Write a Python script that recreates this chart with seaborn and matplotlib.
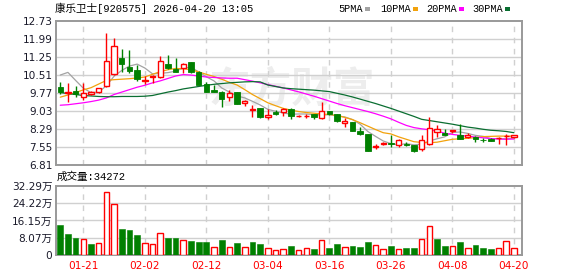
import numpy as np
import pandas as pd
import matplotlib
matplotlib.use("Agg")
import matplotlib.pyplot as plt
from matplotlib.patches import Rectangle
import seaborn as sns

# ---------------- data ----------------
title = "康乐卫士[920575] 2026-04-20 13:05"
volume_label = "成交量:34272"

opens = [10.03, 9.78, 9.88, 9.63, 9.76, 9.82, 10.06, 10.55, 11.22, 10.87,
         10.73, 10.26, 10.42, 10.43, 10.98, 10.78, 10.80, 11.05, 10.63, 10.14,
         9.91, 9.82, 9.61, 9.82, 9.39, 9.10, 9.16, 8.78, 9.01, 9.00,
         9.14, 8.84, 8.84, 8.91, 8.74, 9.03, 8.91, 8.55, 8.59, 8.22,
         8.09, 7.57, 7.70, 7.73, 7.65, 7.70, 7.64, 7.46, 7.68, 8.19,
         8.14, 8.20, 8.07, 7.98, 7.99, 7.87, 7.91, 7.92, 8.00, 7.96]
highs = [10.25, 10.21, 10.06, 10.21, 9.87, 9.99, 12.24, 12.03, 11.58, 11.55,
         10.93, 10.48, 10.52, 11.30, 11.36, 11.24, 11.03, 11.06, 10.69, 10.22,
         10.11, 9.87, 9.91, 9.84, 9.50, 9.29, 9.17, 9.11, 9.08, 9.15,
         9.15, 8.88, 8.92, 8.92, 9.43, 9.05, 8.92, 8.74, 8.61, 8.40,
         8.10, 7.68, 7.77, 8.04, 7.89, 7.78, 7.65, 8.04, 8.78, 8.45,
         8.30, 8.28, 8.49, 8.13, 8.00, 7.95, 7.95, 7.99, 8.10, 8.06]
lows = [9.74, 9.43, 9.61, 9.50, 9.72, 9.80, 10.04, 10.52, 10.63, 10.62,
        10.26, 10.15, 10.21, 10.39, 10.76, 10.66, 10.62, 10.62, 10.11, 9.82,
        9.84, 9.22, 9.47, 9.32, 9.25, 8.81, 8.76, 8.73, 8.87, 8.82,
        8.72, 8.80, 8.76, 8.71, 8.72, 8.87, 8.57, 8.37, 8.23, 8.07,
        7.41, 7.49, 7.66, 7.56, 7.56, 7.60, 7.34, 7.38, 7.66, 7.97,
        8.06, 8.13, 7.90, 7.92, 7.76, 7.77, 7.80, 7.70, 7.66, 7.93]
closes = [9.84, 9.82, 9.73, 9.77, 9.82, 9.97, 11.09, 11.70, 10.98, 10.70,
          10.36, 10.32, 10.48, 11.09, 10.83, 10.66, 10.97, 10.64, 10.13, 9.84,
          9.84, 9.52, 9.77, 9.33, 9.45, 9.12, 8.78, 8.88, 8.92, 9.12,
          8.84, 8.85, 8.85, 8.78, 9.06, 8.90, 8.62, 8.63, 8.24, 8.11,
          7.41, 7.60, 7.71, 7.69, 7.83, 7.66, 7.38, 7.83, 8.34, 8.30,
          8.06, 8.28, 7.90, 8.05, 7.90, 7.85, 7.80, 7.94, 8.02, 8.06]

# volume in 万 (10k shares) and its colour direction ("r" up / "g" down)
volumes = [14.0, 9.8, 7.9, 7.3, 5.1, 5.4, 29.7, 23.8, 12.1, 11.6,
           9.3, 5.4, 5.1, 10.1, 7.9, 7.9, 6.8, 6.5, 6.1, 6.1,
           3.6, 7.0, 3.6, 5.6, 3.6, 6.1, 5.1, 3.1, 2.2, 2.6,
           4.2, 2.2, 3.1, 2.8, 6.8, 3.3, 5.1, 3.6, 4.2, 3.7,
           6.1, 4.5, 2.6, 4.2, 2.6, 3.3, 3.3, 7.3, 13.8, 7.5,
           4.2, 4.0, 6.1, 3.3, 4.5, 3.3, 2.8, 3.1, 6.5, 3.43]
vol_dirs = ["g", "g", "g", "r", "g", "r", "r", "r", "g", "g",
            "g", "r", "r", "r", "g", "g", "r", "g", "g", "g",
            "r", "g", "r", "g", "r", "g", "g", "r", "r", "r",
            "g", "r", "r", "g", "r", "g", "g", "r", "g", "g",
            "g", "r", "r", "g", "r", "g", "g", "r", "r", "g",
            "g", "r", "g", "r", "g", "g", "g", "r", "r", "r"]

ma5 = [10.52, 10.63, 10.30, 9.98, 9.80, 9.82, 10.08, 10.47, 10.71, 10.89,
       10.97, 10.81, 10.57, 10.59, 10.62, 10.68, 10.81, 10.84, 10.65, 10.45,
       10.28, 9.99, 9.82, 9.66, 9.58, 9.44, 9.29, 9.11, 9.03, 8.96,
       8.91, 8.92, 8.92, 8.89, 8.88, 8.89, 8.84, 8.80, 8.69, 8.50,
       8.20, 8.00, 7.81, 7.70, 7.65, 7.70, 7.65, 7.68, 7.81, 7.90,
       7.98, 8.16, 8.18, 8.12, 8.04, 8.00, 7.90, 7.91, 7.90, 7.93]
ma10 = [9.61, 9.70, 9.80, 9.91, 10.00, 10.15, 10.30, 10.33, 10.35, 10.37,
        10.40, 10.44, 10.55, 10.66, 10.74, 10.79, 10.78, 10.74, 10.65, 10.55,
        10.46, 10.35, 10.22, 10.11, 9.92, 9.72, 9.55, 9.38, 9.26, 9.15,
        9.08, 9.02, 8.98, 8.95, 8.92, 8.90, 8.86, 8.78, 8.69, 8.56,
        8.42, 8.28, 8.15, 8.10, 7.98, 7.88, 7.78, 7.75, 7.74, 7.76,
        7.82, 7.88, 7.90, 7.92, 7.95, 7.99, 8.00, 8.01, 8.01, 8.01]
ma20 = [9.28, 9.30, 9.34, 9.38, 9.43, 9.49, 9.58, 9.72, 9.82, 9.92,
        10.02, 10.10, 10.20, 10.28, 10.38, 10.48, 10.54, 10.52, 10.48, 10.44,
        10.42, 10.40, 10.39, 10.39, 10.33, 10.27, 10.20, 10.13, 10.06, 9.99,
        9.91, 9.83, 9.74, 9.65, 9.55, 9.45, 9.35, 9.26, 9.18, 9.10,
        9.02, 8.93, 8.83, 8.72, 8.58, 8.45, 8.36, 8.31, 8.27, 8.22,
        8.13, 8.08, 8.04, 8.01, 7.97, 7.94, 7.91, 7.89, 7.88, 7.89]
ma30 = [9.80, 9.76, 9.72, 9.68, 9.66, 9.64, 9.63, 9.63, 9.64, 9.64,
        9.64, 9.65, 9.68, 9.75, 9.82, 9.88, 9.95, 10.00, 10.05, 10.10,
        10.14, 10.17, 10.20, 10.22, 10.24, 10.25, 10.24, 10.11, 10.05, 9.99,
        9.96, 9.94, 9.92, 9.90, 9.87, 9.84, 9.77, 9.70, 9.62, 9.53,
        9.44, 9.35, 9.25, 9.15, 9.04, 8.93, 8.82, 8.70, 8.65, 8.60,
        8.55, 8.50, 8.44, 8.38, 8.34, 8.29, 8.25, 8.23, 8.20, 8.15]

ma_names = ["5PMA", "10PMA", "20PMA", "30PMA"]
ma_colors = ["#a3a3a3", "#f2a20c", "#ff00ff", "#0a6e31"]

tick_pos = [3, 11, 19, 27, 35, 43, 51, 59]
tick_labels = ["01-21", "02-02", "02-12", "03-04", "03-16", "03-26", "04-08", "04-20"]
price_ticks = [6.81, 7.55, 8.29, 9.03, 9.77, 10.51, 11.25, 11.99, 12.73]
vol_ticks = [0, 8.07, 16.15, 24.22, 32.29]
vol_tick_labels = ["0", "8.07万", "16.15万", "24.22万", "32.29万"]

# ---------------- style ----------------
sns.set_style("white")
plt.rcParams["font.family"] = ["DejaVu Sans", "Noto Sans CJK SC"]

UP = "#ff0000"
DOWN = "#008000"
FRAME = "#999999"
GRID = "#d0d0d0"
LABEL = "#1a1a2a"

W, H = 578, 276
fig = plt.figure(figsize=(W / 100, H / 100), dpi=100)
fig.patch.set_facecolor("white")


def fx(px):
    return px / W


def fy(py):
    return 1 - py / H


x_left, x_right = 56, 522
ax1 = fig.add_axes([fx(x_left), fy(165.3), (x_right - x_left) / W, 144 / H])
ax2 = fig.add_axes([fx(x_left), fy(255), (x_right - x_left) / W, 69 / H])

n = len(closes)
idx = np.arange(n)
xlim = (-0.55, 60.05)

# watermark
ax1.text(0.506, 0.53, "东方财富", transform=ax1.transAxes, ha="center", va="center",
         fontsize=30, fontweight="bold", color="#ededed", family=["Noto Sans CJK SC"], zorder=0)

# moving averages via seaborn
ma_df = pd.concat([
    pd.DataFrame({"idx": idx, "value": vals, "name": name})
    for name, vals in zip(ma_names, [ma5, ma10, ma20, ma30])
])
sns.lineplot(data=ma_df, x="idx", y="value", hue="name", hue_order=ma_names,
             palette=dict(zip(ma_names, ma_colors)), linewidth=0.9, legend=False,
             ax=ax1, zorder=2)

# candlesticks
body_w = 0.7
for i in range(n):
    o, h, l, c = opens[i], highs[i], lows[i], closes[i]
    up = c >= o
    lo_b, hi_b = min(o, c), max(o, c)
    hgt = max(hi_b - lo_b, 0.008)
    if up:
        ax1.vlines(i, hi_b, h, color=UP, linewidth=1.0, zorder=3)
        ax1.vlines(i, l, lo_b, color=UP, linewidth=1.0, zorder=3)
        ax1.bar(i, hgt, bottom=lo_b, width=body_w, facecolor="white",
                edgecolor=UP, linewidth=1.0, zorder=4)
    else:
        ax1.vlines(i, l, h, color=DOWN, linewidth=1.0, zorder=3)
        ax1.bar(i, hgt, bottom=lo_b, width=body_w, facecolor=DOWN,
                edgecolor=DOWN, linewidth=0.6, zorder=4)

# volume bars
for i in range(n):
    if vol_dirs[i] == "r":
        ax2.bar(i, volumes[i], width=0.72, facecolor="white", edgecolor=UP,
                linewidth=1.0, zorder=3)
    else:
        ax2.bar(i, volumes[i], width=0.75, facecolor=DOWN, edgecolor=DOWN,
                linewidth=0.4, zorder=3)

# axes cosmetics
for ax in (ax1, ax2):
    ax.set_xlim(*xlim)
    ax.set_xlabel("")
    ax.set_ylabel("")
    ax.set_xticks(tick_pos)
    ax.tick_params(axis="both", length=0)
    for sp in ax.spines.values():
        sp.set_color(FRAME)
        sp.set_linewidth(1.4)
        sp.set_visible(True)
    ax.set_axisbelow(True)
    for xp in tick_pos:
        ax.axvline(xp, color=GRID, linewidth=1.0, linestyle=(0, (4, 4)), zorder=1)

ax1.set_ylim(price_ticks[0], price_ticks[-1])
ax1.set_yticks(price_ticks)
ax1.set_yticklabels([f"{v:.2f}" for v in price_ticks], fontsize=7.6, color=LABEL)
ax1.tick_params(axis="y", pad=2.6)
ax1.set_xticklabels([])
for v in price_ticks[1:-1]:
    ax1.axhline(v, color=GRID, linewidth=1.0, zorder=1)

ax2.set_ylim(vol_ticks[0], vol_ticks[-1])
ax2.set_yticks(vol_ticks)
ax2.set_yticklabels(vol_tick_labels, fontsize=7.6, color=LABEL)
ax2.tick_params(axis="y", pad=2.6)
ax2.set_xticklabels(tick_labels, fontsize=7.6, color=UP)
ax2.tick_params(axis="x", pad=4.5)
for v in vol_ticks[1:-1]:
    ax2.axhline(v, color=GRID, linewidth=1.0, zorder=1)

# title and volume label
fig.text(fx(55), fy(8.5), title, ha="left", va="center", fontsize=7.6,
         color="black", family=["Liberation Mono", "Noto Sans CJK SC"])
fig.text(fx(57), fy(177), volume_label, ha="left", va="center", fontsize=7.6,
         color="black", family=["Liberation Mono", "Noto Sans CJK SC"])

# legend
leg_text_x = [338, 380, 426, 472]
leg_box_x = [365, 413, 459, 505]
for name, col, tx, bx in zip(ma_names, ma_colors, leg_text_x, leg_box_x):
    fig.text(fx(tx), fy(9), name, ha="left", va="center", fontsize=7.4,
             color="black", family=["Liberation Mono"])
    fig.patches.append(Rectangle((fx(bx), fy(11)), 5 / W, 4 / H,
                                 transform=fig.transFigure, facecolor=col,
                                 edgecolor="none"))

fig.savefig("out.png", dpi=100, facecolor="white")
